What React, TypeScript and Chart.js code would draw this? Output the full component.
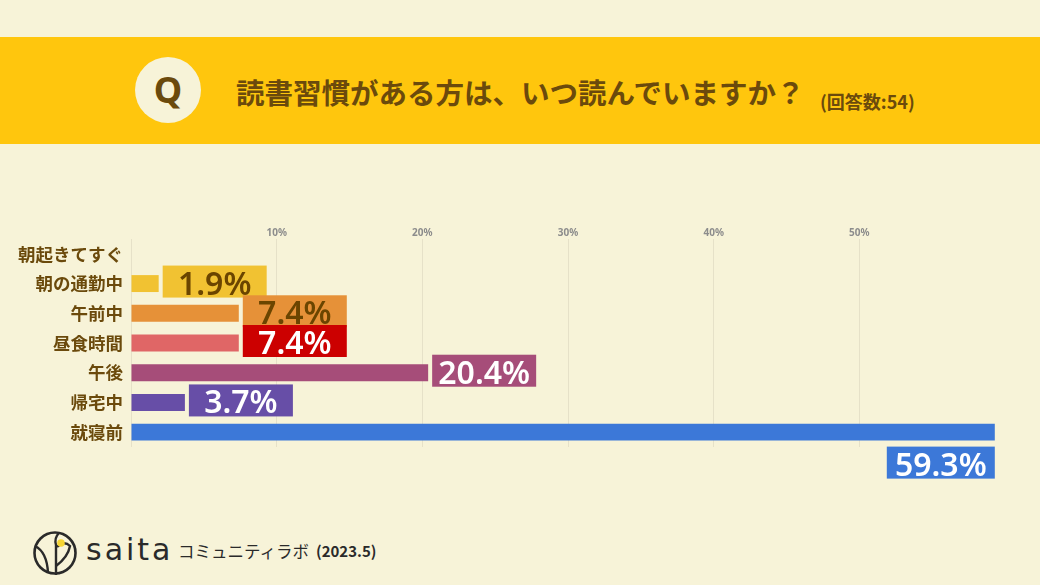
import React, { useEffect, useRef } from "react";
import { Chart, registerables } from "chart.js";

Chart.register(...registerables);

const categories = ["朝起きてすぐ", "朝の通勤中", "午前中", "昼食時間", "午後", "帰宅中", "就寝前"];
const values = [0, 1.9, 7.4, 7.4, 20.4, 3.7, 59.3];
const barColors = ["#f1c232", "#f1c232", "#e69138", "#e06666", "#a64d79", "#674ea7", "#3c78d8"];
const boxColors = ["#f1c232", "#f1c232", "#e69138", "#cc0000", "#a64d79", "#674ea7", "#3c78d8"];
const boxTextColors = ["#6b4500", "#6b4500", "#6b4500", "#ffffff", "#ffffff", "#ffffff", "#ffffff"];
const xTicks = [10, 20, 30, 40, 50];
const xMax = 60;

const BROWN = "#6b4a0c";
const BG = "#f7f3d8";

const labelPlugin = {
  id: "boxLabels",
  afterDatasetsDraw(chart: any) {
    const ctx = chart.ctx;
    const meta = chart.getDatasetMeta(0);
    const maxVal = Math.max(...values);
    ctx.save();
    meta.data.forEach((bar: any, i: number) => {
      const v = values[i];
      if (!v) return;
      const h = 32;
      const last = v === maxVal;
      const w = last ? 108 : 104;
      let bx: number, by: number;
      const barBottom = bar.y + bar.height / 2;
      if (last) {
        bx = bar.x - w;
        by = barBottom + 6;
      } else {
        bx = bar.x + 4;
        by = bar.y - h / 2 - 2;
      }
      ctx.fillStyle = boxColors[i];
      ctx.fillRect(bx, by, w, h);
      ctx.fillStyle = boxTextColors[i];
      ctx.font = "600 32px 'Noto Sans'";
      ctx.textAlign = "center";
      ctx.textBaseline = "alphabetic";
      ctx.fillText(v.toFixed(1) + "%", bx + w / 2, by + h - 3);
    });
    ctx.restore();
  },
};

function BarChart() {
  const ref = useRef<HTMLCanvasElement>(null);
  useEffect(() => {
    if (!ref.current) return;
    const chart = new Chart(ref.current, {
      type: "bar",
      data: {
        labels: categories,
        datasets: [
          {
            data: values,
            backgroundColor: barColors,
            borderWidth: 0,
            barPercentage: 0.57,
            categoryPercentage: 1,
          },
        ],
      },
      options: {
        indexAxis: "y",
        responsive: false,
        animation: false,
        layout: { padding: { top: 0, left: 0, right: 35, bottom: 53 } },
        plugins: { legend: { display: false }, tooltip: { enabled: false } },
        scales: {
          x: {
            position: "top",
            min: 0,
            max: xMax,
            afterBuildTicks: (s: any) => {
              s.ticks = [0, ...xTicks, xMax].map((v) => ({ value: v }));
            },
            ticks: {
              callback: (v: any) => (xTicks.includes(Number(v)) ? v + "%" : ""),
              font: { size: 10, weight: "bold", family: "'Noto Sans'" },
              color: "#8c8c8c",
              padding: 0,
              maxRotation: 0,
            },
            grid: {
              color: (c: any) => (c.tick && c.tick.value === xMax ? "rgba(0,0,0,0)" : "#e6e1c8"),
              drawTicks: false,
              lineWidth: 1,
            },
            border: { display: false },
            afterFit: (s: any) => {
              s.height = 39;
            },
          },
          y: {
            ticks: {
              font: { size: 17.5, weight: "bold", family: "'Noto Sans CJK JP'" },
              color: BROWN,
              padding: 8,
            },
            grid: { display: false, drawTicks: false },
            border: { display: false },
            afterFit: (s: any) => {
              s.width = 131;
            },
          },
        },
      },
      plugins: [labelPlugin],
    } as any);
    return () => chart.destroy();
  }, []);
  return <canvas ref={ref} width={1040} height={300} style={{ display: "block" }} />;
}

export default function App() {
  return (
    <div
      style={{
        position: "fixed",
        left: 0,
        top: 0,
        width: 1040,
        height: 585,
        background: BG,
        overflow: "hidden",
        fontFamily: "'Noto Sans CJK JP', 'Noto Sans', sans-serif",
      }}
    >
      <div
        style={{
          position: "absolute",
          left: 0,
          top: 37,
          width: 1040,
          height: 107,
          background: "#ffc60d",
        }}
      >
        <div
          style={{
            position: "absolute",
            left: 135,
            top: 20,
            width: 66,
            height: 66,
            borderRadius: "50%",
            background: BG,
            color: BROWN,
            fontWeight: 700,
            fontSize: 36,
            fontFamily: "'Noto Sans', sans-serif",
            display: "flex",
            alignItems: "center",
            justifyContent: "center",
            lineHeight: 1,
          }}
        >
          Q
        </div>
        <div
          style={{
            position: "absolute",
            left: 236,
            top: 35,
            color: BROWN,
            fontWeight: 700,
            fontSize: 28.5,
            lineHeight: "40px",
            whiteSpace: "nowrap",
          }}
        >
          読書習慣がある方は、いつ読んでいますか？
        </div>
        <div
          style={{
            position: "absolute",
            left: 820,
            top: 52,
            color: BROWN,
            fontWeight: 700,
            fontSize: 18,
            lineHeight: "24px",
            whiteSpace: "nowrap",
          }}
        >
          (回答数:54)
        </div>
      </div>
      <div style={{ position: "absolute", left: 0, top: 200, width: 1040, height: 300 }}>
        <BarChart />
      </div>
      <svg
        style={{ position: "absolute", left: 0, top: 520 }}
        width={100}
        height={65}
        viewBox="0 520 100 65"
      >
        <circle cx={55} cy={553} r={20.5} stroke="#2a2a2a" strokeWidth={2.6} fill="none" />
        <path d="M35 546 Q47 552 48 573" stroke="#2a2a2a" strokeWidth={2.4} fill="none" />
        <path d="M56 575 L56 545 Q54 538 59 533" stroke="#2a2a2a" strokeWidth={2.4} fill="none" />
        <path d="M56 566 Q68 557 70 546 Q64 540 57 547" stroke="#2a2a2a" strokeWidth={2.4} fill="none" />
        <circle cx={61} cy={543} r={3.8} fill="#f5d533" />
      </svg>
      <div
        style={{
          position: "absolute",
          left: 86,
          top: 530,
          color: "#2a2a2a",
          fontFamily: "'DejaVu Sans', sans-serif",
          fontSize: 30,
          letterSpacing: 3,
          lineHeight: "40px",
          whiteSpace: "nowrap",
        }}
      >
        saita
      </div>
      <div
        style={{
          position: "absolute",
          left: 178,
          top: 539,
          color: "#2a2a2a",
          fontSize: 16.5,
          letterSpacing: 0,
          lineHeight: "24px",
          whiteSpace: "nowrap",
        }}
      >
        コミュニティラボ
      </div>
      <div
        style={{
          position: "absolute",
          left: 316,
          top: 540,
          color: "#2a2a2a",
          fontSize: 15,
          fontWeight: 700,
          lineHeight: "22px",
          whiteSpace: "nowrap",
        }}
      >
        (2023.5)
      </div>
    </div>
  );
}
